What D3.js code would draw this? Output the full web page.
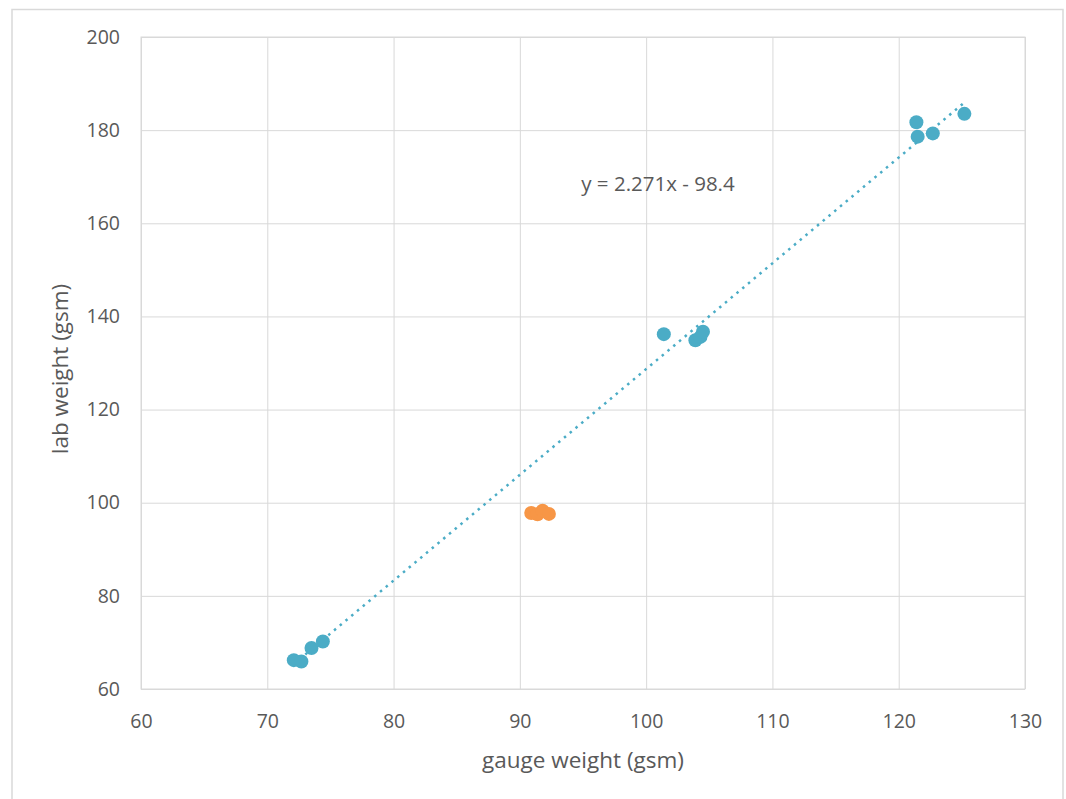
<!DOCTYPE html>
<html>
<head>
<meta charset="utf-8">
<script src="https://cdn.jsdelivr.net/npm/d3@7/dist/d3.min.js"></script>
<style>
  html, body { margin: 0; padding: 0; background: #fff; }
  svg { display: block; font-family: "Open Sans", "Liberation Sans", sans-serif; }
</style>
</head>
<body>
<svg id="chart" width="1066" height="799"></svg>
<script>
// ---- data ----
const blueX = [72.1, 72.7, 73.5, 74.4, 101.4, 103.9, 104.3, 104.5, 121.4, 121.5, 122.7, 125.2];
const blueY = [66.2, 65.9, 68.8, 70.2, 136.2, 134.9, 135.6, 136.7, 181.7, 178.6, 179.3, 183.5];
const orangeX = [90.9, 91.4, 91.8, 92.3];
const orangeY = [97.8, 97.5, 98.3, 97.6];
const trendSlope = 2.271;
const trendIntercept = -98.4;
const trendLabel = "y = 2.271x - 98.4";
const xTicks = [60, 70, 80, 90, 100, 110, 120, 130];
const yTicks = [60, 80, 100, 120, 140, 160, 180, 200];
const xTitle = "gauge weight (gsm)";
const yTitle = "lab weight (gsm)";

(function () {
// ---- layout ----
const svg = d3.select("#chart");
const pLeft = 141, pRight = 1025, pTop = 37, pBottom = 689;
const x = d3.scaleLinear().domain([60, 130]).range([pLeft, pRight]);
const y = d3.scaleLinear().domain([60, 200]).range([pBottom, pTop]);
const textColor = "#595959";
const gridColor = "#d9d9d9";
const blue = "#4bacc6";
const orange = "#f79646";

// outer chart border
svg.append("rect")
  .attr("x", 12).attr("y", 9.5)
  .attr("width", 1051).attr("height", 820)
  .attr("fill", "#fff").attr("stroke", "#d9d9d9").attr("stroke-width", 1.5);

// gridlines via axes
svg.append("g")
  .attr("transform", `translate(0,${pBottom})`)
  .call(d3.axisBottom(x).tickValues(xTicks).tickSize(-(pBottom - pTop)).tickFormat(""))
  .call(g => g.select(".domain").remove())
  .call(g => g.selectAll("line").attr("stroke", gridColor).attr("stroke-width", 1));

svg.append("g")
  .attr("transform", `translate(${pLeft},0)`)
  .call(d3.axisLeft(y).tickValues(yTicks).tickSize(-(pRight - pLeft)).tickFormat(""))
  .call(g => g.select(".domain").remove())
  .call(g => g.selectAll("line").attr("stroke", gridColor).attr("stroke-width", 1));

// plot area border
svg.append("rect")
  .attr("x", pLeft).attr("y", pTop)
  .attr("width", pRight - pLeft).attr("height", pBottom - pTop)
  .attr("fill", "none").attr("stroke", gridColor).attr("stroke-width", 1);

// tick labels
const xAx = svg.append("g")
  .attr("transform", `translate(0,${pBottom})`)
  .call(d3.axisBottom(x).tickValues(xTicks).tickSize(0).tickPadding(25));
xAx.select(".domain").remove();
xAx.selectAll("text").attr("fill", textColor).style("font-size", "19.5px")
  .style("font-family", '"Open Sans", sans-serif');

const yAx = svg.append("g")
  .attr("transform", `translate(${pLeft},0)`)
  .call(d3.axisLeft(y).tickValues(yTicks).tickSize(0).tickPadding(21));
yAx.select(".domain").remove();
yAx.selectAll("text").attr("fill", textColor).style("font-size", "19.5px")
  .style("font-family", '"Open Sans", sans-serif');

// axis titles
svg.append("text")
  .attr("x", 583).attr("y", 762)
  .attr("text-anchor", "middle").attr("dominant-baseline", "middle")
  .attr("fill", textColor).style("font-size", "22.5px")
  .text(xTitle);

svg.append("text")
  .attr("transform", "translate(62,369) rotate(-90)")
  .attr("text-anchor", "middle").attr("dominant-baseline", "middle")
  .attr("fill", textColor).style("font-size", "22.5px")
  .text(yTitle);

// trendline (dotted)
const tx0 = d3.min(blueX), tx1 = d3.max(blueX);
svg.append("line")
  .attr("x1", x(tx0)).attr("y1", y(trendSlope * tx0 + trendIntercept))
  .attr("x2", x(tx1)).attr("y2", y(trendSlope * tx1 + trendIntercept))
  .attr("stroke", blue).attr("stroke-width", 2.5)
  .attr("stroke-dasharray", "2.5,5").attr("stroke-linecap", "butt");

// points
svg.append("g").selectAll("circle")
  .data(blueX.map((d, i) => [d, blueY[i]]))
  .join("circle")
  .attr("cx", d => x(d[0])).attr("cy", d => y(d[1]))
  .attr("r", 7).attr("fill", blue);

svg.append("g").selectAll("circle")
  .data(orangeX.map((d, i) => [d, orangeY[i]]))
  .join("circle")
  .attr("cx", d => x(d[0])).attr("cy", d => y(d[1]))
  .attr("r", 7).attr("fill", orange);

// trendline label
svg.append("text")
  .attr("x", 658).attr("y", 186)
  .attr("text-anchor", "middle").attr("dominant-baseline", "middle")
  .attr("fill", textColor).style("font-size", "20.5px")
  .text(trendLabel);
})();
</script>
</body>
</html>
